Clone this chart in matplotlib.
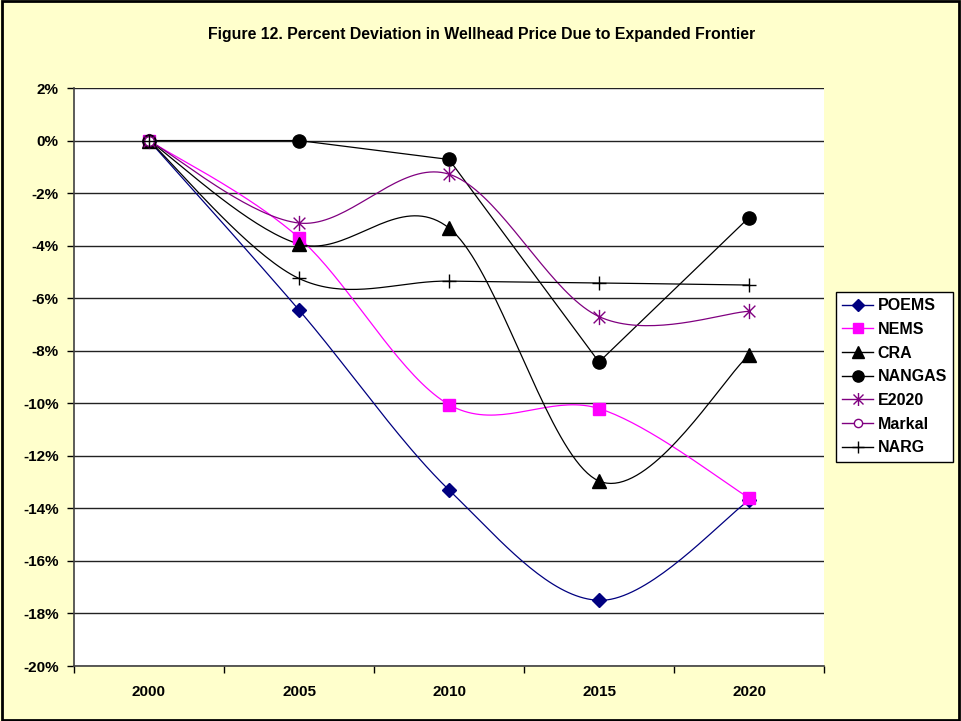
import numpy as np
import matplotlib
matplotlib.use("Agg")
import matplotlib.pyplot as plt
from matplotlib.path import Path
from matplotlib.patches import Rectangle

plt.rcParams['font.family'] = ['Liberation Sans', 'DejaVu Sans']

# chart data (percent deviation)
years = ['2000', '2005', '2010', '2015', '2020']
poems = [0.0, -6.45, -13.3, -17.5, -13.7]
nems = [0.0, -3.7, -10.05, -10.2, -13.6]
cra = [0.0, -3.94, -3.33, -12.96, -8.17]
nangas = [0.0, 0.0, -0.72, -8.43, -2.93]
e2020 = [0.0, -3.14, -1.28, -6.7, -6.5]
markal = [0.0, np.nan, np.nan, np.nan, np.nan]
narg = [0.0, -5.25, -5.35, -5.42, -5.5]

# six-armed star marker (x plus vertical bar)
star = Path([(-1, -1), (1, 1), (-1, 1), (1, -1), (0, -1.3), (0, 1.3)],
            [Path.MOVETO, Path.LINETO, Path.MOVETO, Path.LINETO,
             Path.MOVETO, Path.LINETO])


def smooth(x, y, n=40):
    # Catmull-Rom style cubic bezier through the points
    pts = np.column_stack([x, y])
    out = [pts[0]]
    for i in range(len(pts) - 1):
        p0 = pts[max(i - 1, 0)]
        p1 = pts[i]
        p2 = pts[i + 1]
        p3 = pts[min(i + 2, len(pts) - 1)]
        c1 = p1 + (p2 - p0) / 6.0
        c2 = p2 - (p3 - p1) / 6.0
        t = np.linspace(0, 1, n)[1:, None]
        seg = ((1 - t) ** 3) * p1 + 3 * ((1 - t) ** 2) * t * c1 \
            + 3 * (1 - t) * t ** 2 * c2 + t ** 3 * p2
        out.extend(seg)
    out = np.array(out)
    return out[:, 0], out[:, 1]


series = [
    ('POEMS', poems, '#000080', 'D', 7.5, '#000080', True),
    ('NEMS', nems, '#FF00FF', 's', 9, '#FF00FF', True),
    ('CRA', cra, 'black', '^', 9.5, 'black', True),
    ('NANGAS', nangas, 'black', 'o', 9.5, 'black', False),
    ('E2020', e2020, '#800080', star, 11, 'none', True),
    ('Markal', markal, '#800080', 'o', 7, 'white', True),
    ('NARG', narg, 'black', '+', 10, 'none', True),
]

fig = plt.figure(figsize=(9.61, 7.21), dpi=100, facecolor='#FFFFCC')
ax = fig.add_axes([74 / 961, 1 - 666 / 721, 750 / 961, 578 / 721])
ax.set_facecolor('white')

xs = np.arange(1, len(years) + 1)
handles = []
for name, vals, col, mk, ms, fc, sm in series:
    v = np.array(vals, dtype=float)
    ok = ~np.isnan(v)
    if ok.sum() > 1:
        if sm:
            lx, ly = smooth(xs[ok], v[ok])
        else:
            lx, ly = xs[ok], v[ok]
        ax.plot(lx, ly, color=col, lw=0.9, zorder=3)
    ax.plot(xs[ok], v[ok], linestyle='none', marker=mk, ms=ms,
            markerfacecolor=fc, markeredgecolor=col, mew=1.0, zorder=4)
    h, = ax.plot([], [], color=col, lw=1.0, marker=mk,
                 ms=ms * 0.85, markerfacecolor=fc, markeredgecolor=col)
    handles.append((h, name))

ax.set_xlim(0.5, len(years) + 0.5)
ax.set_ylim(-20, 2)
ax.set_yticks(np.arange(-20, 3, 2))
ax.set_yticklabels([f'{t}%' for t in range(-20, 3, 2)])
ax.yaxis.grid(True, color='#222222', lw=1.0, zorder=1)
ax.set_axisbelow(True)

ax.set_xticks(xs)
ax.set_xticklabels(years)
ax.set_xticks(np.arange(0.5, len(years) + 1), minor=True)
ax.tick_params(axis='x', which='major', length=0, pad=14)
ax.tick_params(axis='x', which='minor', length=5, width=1, direction='out')
ax.tick_params(axis='y', length=5, width=1, direction='out', pad=6)
for lab in ax.get_xticklabels() + ax.get_yticklabels():
    lab.set_fontweight('bold')
    lab.set_fontsize(11)

for side in ['top', 'right']:
    ax.spines[side].set_visible(False)
for side in ['left', 'bottom']:
    ax.spines[side].set_color('#404040')
    ax.spines[side].set_linewidth(1.2)

fig.text(482 / 961, 1 - 35 / 721,
         'Figure 12. Percent Deviation in Wellhead Price Due to Expanded Frontier',
         ha='center', va='center', fontsize=11.4, fontweight='bold')

leg = fig.legend([h for h, _ in handles], [n for _, n in handles],
                 loc='upper left', bbox_to_anchor=(836 / 961, 1 - 292 / 721),
                 borderaxespad=0, frameon=True, fancybox=False,
                 edgecolor='black', facecolor='white', framealpha=1,
                 handlelength=1.9, handletextpad=0.3, labelspacing=0.54,
                 borderpad=0.4, prop={'weight': 'bold', 'size': 11.5})
leg.get_frame().set_linewidth(1.0)

# outer chart border
fig.patches.append(Rectangle((0.002, 0.002), 0.996, 0.996, fill=False,
                             edgecolor='black', lw=2.0,
                             transform=fig.transFigure, figure=fig))

fig.savefig('out.png', dpi=100, facecolor=fig.get_facecolor())
